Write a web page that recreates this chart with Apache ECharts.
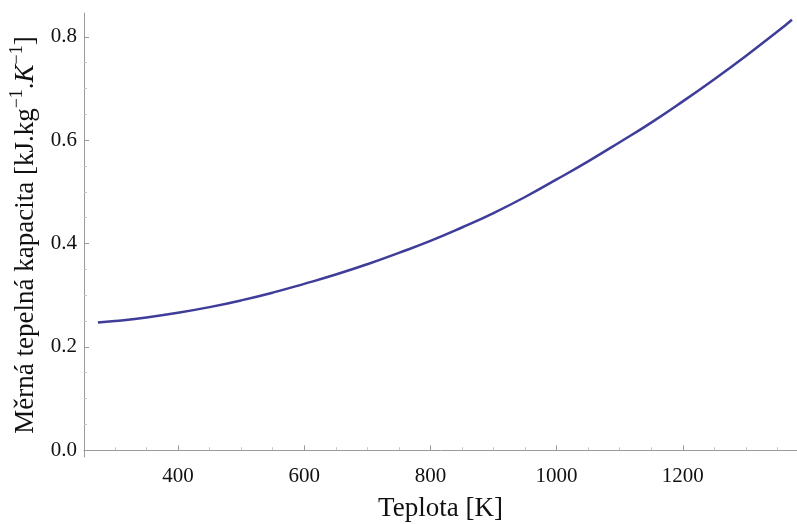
<!DOCTYPE html>
<html>
<head>
<meta charset="utf-8">
<script src="https://cdn.jsdelivr.net/npm/echarts@6/dist/echarts.min.js"></script>
<style>html,body{margin:0;padding:0;background:#fff}#c{width:797px;height:524px}</style>
</head>
<body>
<div id="c"></div>
<script>
// Temperature [K]
var temps = [273, 300, 350, 400, 450, 500, 550, 600, 650, 700, 750, 800, 850, 900, 950, 1000, 1050, 1100, 1150, 1200, 1250, 1300, 1350, 1373];
// Specific heat capacity [kJ.kg^-1.K^-1]
var heat = [0.247, 0.250, 0.257, 0.266, 0.277, 0.290, 0.305, 0.322, 0.340, 0.360, 0.382, 0.405, 0.431, 0.459, 0.490, 0.524, 0.559, 0.596, 0.634, 0.675, 0.718, 0.763, 0.810, 0.833];
var xMajor = [400, 600, 800, 1000, 1200];
var xMinor = [300, 350, 450, 500, 550, 650, 700, 750, 850, 900, 950, 1050, 1100, 1150, 1250, 1300, 1350];
var yMajor = [0, 0.2, 0.4, 0.6, 0.8];
var yMinor = [0.05, 0.1, 0.15, 0.25, 0.3, 0.35, 0.45, 0.5, 0.55, 0.65, 0.7, 0.75];
var xTitle = 'Teplota [K]';

var serif = 'Liberation Serif';
var axisGray = '#9a9a9a';
var data = temps.map(function (t, i) { return [t, heat[i]]; });
var xMin = 251, xMax = 1381, yMin = -0.013, yMax = 0.846;

var chart = echarts.init(document.getElementById('c'), null, {renderer: 'canvas'});
chart.setOption({
  backgroundColor: '#ffffff',
  animation: false,
  grid: {left: 84, right: 0, top: 13, bottom: 67, containLabel: false, outerBoundsMode: 'none'},
  xAxis: [{
    type: 'value', min: xMin, max: xMax, gridIndex: 0, position: 'bottom',
    name: xTitle, nameLocation: 'middle', nameGap: 38,
    nameTextStyle: {fontFamily: serif, fontSize: 27, color: '#111'},
    axisLine: {show: true, lineStyle: {color: axisGray, width: 1}},
    axisTick: {show: true, inside: true, length: 5, customValues: xMajor, lineStyle: {color: axisGray}},
    axisLabel: {show: true, customValues: xMajor, margin: 9, fontFamily: serif, fontSize: 21, color: '#111',
      formatter: function (v) { return String(Math.round(v)); }},
    splitLine: {show: false}
  }, {
    type: 'value', min: xMin, max: xMax, gridIndex: 0, position: 'bottom',
    axisLine: {show: false},
    axisTick: {show: true, inside: true, length: 3, customValues: xMinor, lineStyle: {color: '#c4c4c4'}},
    axisLabel: {show: false, customValues: xMinor},
    splitLine: {show: false}
  }],
  yAxis: [{
    type: 'value', min: yMin, max: yMax, gridIndex: 0, position: 'left',
    name: '{b|Měrná tepelná kapacita [kJ.kg}{s|−1}{b|.}{i|K}{s|−1}{b|]}',
    nameLocation: 'middle', nameGap: 42, nameRotate: 90,
    nameTextStyle: {
      fontFamily: serif, fontSize: 27, color: '#111',
      rich: {
        b: {fontFamily: serif, fontSize: 27, color: '#111', lineHeight: 32, verticalAlign: 'bottom'},
        i: {fontFamily: serif, fontSize: 27, fontStyle: 'italic', color: '#111', lineHeight: 32, verticalAlign: 'bottom'},
        s: {fontFamily: serif, fontSize: 18, color: '#111', lineHeight: 32, verticalAlign: 'top'}
      }
    },
    axisLine: {show: true, lineStyle: {color: axisGray, width: 1}},
    axisTick: {show: true, inside: true, length: 5, customValues: yMajor, lineStyle: {color: axisGray}},
    axisLabel: {show: true, customValues: yMajor, margin: 7, fontFamily: serif, fontSize: 21, color: '#111',
      formatter: function (v) { return v.toFixed(1); }},
    splitLine: {show: false}
  }, {
    type: 'value', min: yMin, max: yMax, gridIndex: 0, position: 'left',
    axisLine: {show: false},
    axisTick: {show: true, inside: true, length: 3, customValues: yMinor, lineStyle: {color: '#c4c4c4'}},
    axisLabel: {show: false, customValues: yMinor},
    splitLine: {show: false}
  }],
  series: [{
    type: 'line', xAxisIndex: 0, yAxisIndex: 0,
    data: data, smooth: true, showSymbol: false, symbol: 'none',
    lineStyle: {color: '#3f3d99', width: 2.5},
    clip: false
  }]
});
</script>
</body>
</html>
